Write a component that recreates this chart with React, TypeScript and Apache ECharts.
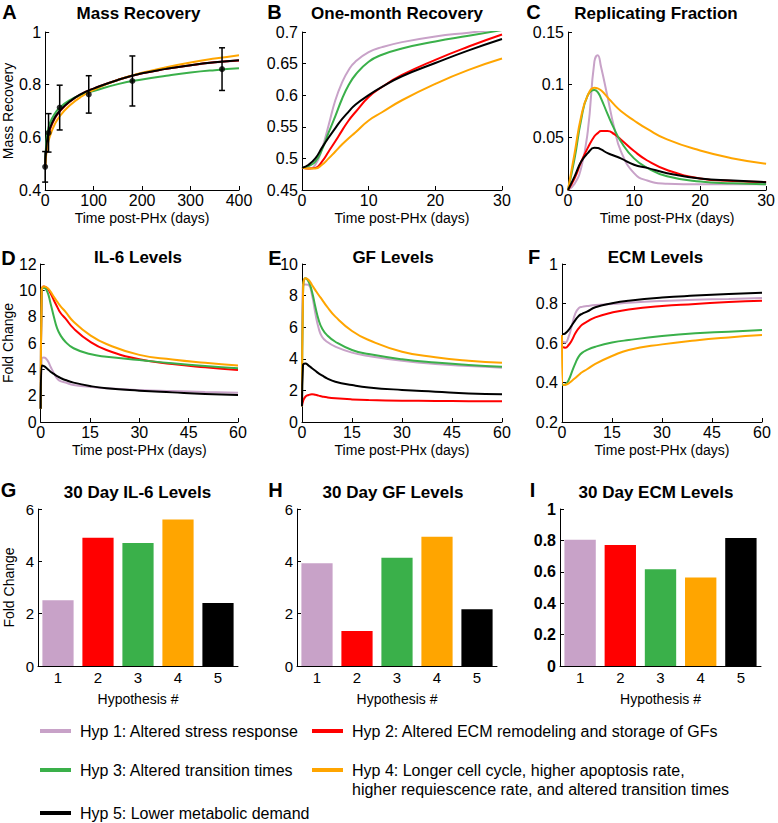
import React, { useEffect, useRef } from "react";
import * as echarts from "echarts";

const FONT = "'Liberation Sans', Arial, Helvetica, sans-serif";
const COLORS = ["#C8A2C8", "#FF0000", "#3AB04A", "#FFA500", "#000000"];
const HYP_NAMES = [
  "Hyp 1: Altered stress response",
  "Hyp 2: Altered ECM remodeling and storage of GFs",
  "Hyp 3: Altered transition times",
  "Hyp 4: Longer cell cycle, higher apoptosis rate,\nhigher requiescence rate, and altered transition times",
  "Hyp 5: Lower metabolic demand",
];

// Panel A: Mass Recovery (days 0-400)
const massT = [0, 2, 5, 10, 20, 30, 50, 75, 100, 150, 200, 250, 300, 350, 400];
const massH1 = [0.485, 0.55, 0.6, 0.635, 0.675, 0.7, 0.735, 0.765, 0.785, 0.818, 0.843, 0.86, 0.873, 0.884, 0.892];
const massH2 = [0.485, 0.54, 0.59, 0.63, 0.672, 0.698, 0.734, 0.764, 0.785, 0.818, 0.843, 0.86, 0.874, 0.885, 0.892];
const massH3 = [0.485, 0.57, 0.62, 0.655, 0.69, 0.712, 0.74, 0.762, 0.776, 0.802, 0.82, 0.834, 0.846, 0.855, 0.862];
const massH4 = [0.485, 0.53, 0.57, 0.605, 0.65, 0.68, 0.72, 0.755, 0.78, 0.818, 0.845, 0.866, 0.884, 0.899, 0.912];
const massH5 = [0.485, 0.55, 0.6, 0.635, 0.675, 0.7, 0.735, 0.765, 0.785, 0.818, 0.843, 0.86, 0.874, 0.885, 0.893];
const massObsT = [0, 7, 30, 90, 180, 365];
const massObsMean = [0.488, 0.617, 0.713, 0.763, 0.814, 0.859];
const massObsErr = [0.058, 0.073, 0.085, 0.071, 0.095, 0.081];

// Panel B: One-month Recovery (days 0-30)
const monthT = [0, 1, 2, 3, 4, 5, 6, 7, 8, 10, 12, 15, 20, 25, 30];
const monthH1 = [0.485, 0.484, 0.49, 0.515, 0.553, 0.592, 0.62, 0.64, 0.653, 0.668, 0.676, 0.684, 0.693, 0.699, 0.705];
const monthH2 = [0.485, 0.484, 0.485, 0.495, 0.511, 0.527, 0.544, 0.56, 0.573, 0.597, 0.613, 0.632, 0.656, 0.677, 0.696];
const monthH3 = [0.485, 0.488, 0.495, 0.514, 0.541, 0.567, 0.594, 0.616, 0.632, 0.653, 0.664, 0.674, 0.685, 0.694, 0.703];
const monthH4 = [0.485, 0.484, 0.484, 0.49, 0.5, 0.511, 0.522, 0.532, 0.541, 0.56, 0.573, 0.592, 0.618, 0.64, 0.658];
const monthH5 = [0.485, 0.49, 0.5, 0.517, 0.533, 0.548, 0.562, 0.574, 0.585, 0.6, 0.613, 0.63, 0.651, 0.671, 0.689];

// Panel C: Replicating Fraction (days 0-30)
const repT = [0, 1, 2, 3, 4, 4.5, 5, 6, 7, 8, 10, 12, 15, 20, 25, 30];
const repH1 = [0, 0.006, 0.021, 0.056, 0.122, 0.128, 0.117, 0.088, 0.059, 0.037, 0.016, 0.009, 0.006, 0.0055, 0.0055, 0.0055];
const repH2 = [0, 0.011, 0.027, 0.04, 0.051, 0.054, 0.056, 0.056, 0.053, 0.048, 0.037, 0.028, 0.019, 0.011, 0.0085, 0.0075];
const repH3 = [0, 0.03, 0.067, 0.09, 0.095, 0.093, 0.087, 0.072, 0.058, 0.046, 0.03, 0.021, 0.013, 0.008, 0.0064, 0.0055];
const repH4 = [0, 0.035, 0.07, 0.09, 0.097, 0.0965, 0.0946, 0.088, 0.081, 0.075, 0.066, 0.058, 0.048, 0.0375, 0.03, 0.025];
const repH5 = [0, 0.013, 0.027, 0.035, 0.04, 0.0398, 0.0385, 0.035, 0.0325, 0.03, 0.024, 0.021, 0.016, 0.011, 0.009, 0.0074];

// Panels D-F: time grid (days 0-60)
const longT = [0, 0.3, 1, 2, 3, 4, 5, 6, 7.5, 10, 15, 20, 30, 40, 50, 60];

// Panel D: IL-6 Levels
const il6H1 = [1, 4.8, 4.89, 4.7, 4.2, 3.7, 3.3, 3.1, 3.0, 2.81, 2.68, 2.56, 2.43, 2.35, 2.28, 2.23];
const il6H2 = [1, 10.0, 10.3, 10.15, 9.77, 9.25, 8.76, 8.3, 7.87, 7.11, 6.1, 5.47, 4.76, 4.4, 4.15, 3.95];
const il6H3 = [1, 10.0, 10.2, 9.9, 9.0, 8.0, 7.11, 6.6, 6.1, 5.6, 5.16, 4.96, 4.71, 4.46, 4.25, 4.08];
const il6H4 = [1, 10.0, 10.3, 10.2, 9.9, 9.5, 9.14, 8.8, 8.38, 7.62, 6.6, 5.92, 5.1, 4.75, 4.5, 4.3];
const il6H5 = [1, 4.3, 4.25, 4.05, 3.82, 3.65, 3.49, 3.35, 3.19, 2.99, 2.73, 2.56, 2.38, 2.25, 2.13, 2.05];

// Panel E: GF Levels
const gfH1 = [1, 8.7, 8.71, 8.67, 8.04, 6.88, 5.93, 5.4, 5.08, 4.77, 4.39, 4.18, 3.88, 3.67, 3.54, 3.44];
const gfH2 = [1, 1.3, 1.6, 1.71, 1.75, 1.72, 1.67, 1.62, 1.56, 1.5, 1.43, 1.39, 1.35, 1.33, 1.32, 1.31];
const gfH3 = [1, 8.0, 9.1, 8.88, 8.25, 7.3, 6.46, 5.93, 5.5, 5.08, 4.56, 4.3, 3.97, 3.76, 3.61, 3.5];
const gfH4 = [1, 8.0, 9.1, 8.99, 8.67, 8.35, 8.04, 7.75, 7.3, 6.67, 5.76, 5.19, 4.45, 4.1, 3.88, 3.75];
const gfH5 = [1, 3.6, 3.7, 3.57, 3.4, 3.24, 3.08, 2.95, 2.76, 2.55, 2.34, 2.19, 2.03, 1.92, 1.81, 1.75];

// Panel F: ECM Levels
const ecmH1 = [0.607, 0.606, 0.602, 0.632, 0.691, 0.75, 0.776, 0.783, 0.787, 0.792, 0.797, 0.804, 0.813, 0.819, 0.823, 0.828];
const ecmH2 = [0.578, 0.578, 0.576, 0.59, 0.615, 0.649, 0.674, 0.692, 0.708, 0.73, 0.754, 0.77, 0.787, 0.797, 0.808, 0.814];
const ecmH3 = [0.387, 0.388, 0.39, 0.413, 0.455, 0.497, 0.531, 0.55, 0.565, 0.581, 0.602, 0.615, 0.635, 0.649, 0.657, 0.666];
const ecmH4 = [0.64, 0.387, 0.388, 0.396, 0.409, 0.423, 0.438, 0.452, 0.467, 0.494, 0.534, 0.565, 0.593, 0.613, 0.628, 0.64];
const ecmH5 = [0.644, 0.645, 0.649, 0.666, 0.691, 0.716, 0.737, 0.748, 0.759, 0.781, 0.801, 0.814, 0.83, 0.84, 0.848, 0.855];

// Panels G-I: 30 day levels per hypothesis
const hypCategories = ["1", "2", "3", "4", "5"];
const il6Day30 = [2.51, 4.9, 4.7, 5.6, 2.41];
const gfDay30 = [3.93, 1.34, 4.14, 4.94, 2.17];
const ecmDay30 = [0.804, 0.77, 0.617, 0.564, 0.815];

const GRIDS = [
  { left: 39, top: 32, width: 200, height: 158 },
  { left: 302, top: 32, width: 200, height: 158 },
  { left: 568, top: 32, width: 200, height: 158 },
  { left: 39, top: 264, width: 199, height: 158 },
  { left: 302, top: 264, width: 200, height: 158 },
  { left: 562, top: 264, width: 200, height: 158 },
  { left: 38, top: 509, width: 200, height: 157 },
  { left: 297, top: 509, width: 200, height: 157 },
  { left: 560, top: 509, width: 201, height: 157 },
];

const axisLine = { show: true, onZero: false, lineStyle: { color: "#000", width: 1 } };
const axisTick = { show: true, inside: true, length: 4, lineStyle: { color: "#000" } };

function xValueAxis(g: number, max: number, interval: number) {
  return {
    type: "value", gridIndex: g, min: 0, max, interval,
    axisLine, axisTick,
    axisLabel: { color: "#000", fontSize: 16, fontFamily: FONT, margin: 2 },
    splitLine: { show: false },
    name: "Time post-PHx (days)", nameLocation: "middle", nameGap: 21,
    nameTextStyle: { color: "#000", fontSize: 14, fontFamily: FONT },
  };
}

function yValueAxis(g: number, min: number, max: number, interval: number, name?: string, bold?: boolean, fs = 16) {
  return {
    type: "value", gridIndex: g, min, max, interval,
    axisLine, axisTick,
    axisLabel: { color: "#000", fontSize: fs, fontFamily: FONT, margin: 4, fontWeight: bold ? "bold" : "normal" },
    splitLine: { show: false },
    name: name || "", nameLocation: "middle", nameGap: 22,
    nameTextStyle: { color: "#000", fontSize: 14, fontFamily: FONT },
  };
}

function catAxis(g: number) {
  return {
    type: "category", gridIndex: g, data: hypCategories,
    axisLine, axisTick: { show: false },
    axisLabel: { color: "#000", fontSize: 15, fontFamily: FONT, margin: 4 },
    name: "Hypothesis #", nameLocation: "middle", nameGap: 26,
    nameTextStyle: { color: "#000", fontSize: 14, fontFamily: FONT },
  };
}

function lineSeries(g: number, t: number[], rows: number[][]) {
  return rows.map((vals, h) => ({
    name: HYP_NAMES[h],
    type: "line",
    xAxisIndex: g, yAxisIndex: g,
    data: t.map((x, i) => [x, vals[i]]),
    showSymbol: false, symbol: "none",
    smooth: 0.5,
    lineStyle: { color: COLORS[h], width: 2 },
    itemStyle: { color: COLORS[h] },
    clip: true, silent: true, z: 2 + h,
  }));
}

function barSeries(g: number, vals: number[]) {
  return {
    type: "bar", xAxisIndex: g, yAxisIndex: g,
    barCategoryGap: "22%",
    data: vals.map((v, i) => ({ value: v, itemStyle: { color: COLORS[i] } })),
    silent: true,
  };
}

function txt(text: string, x: number, y: number, size: number, bold: boolean, align = "center", vAlign = "middle", lineHeight?: number) {
  return {
    type: "text", x, y, silent: true,
    style: {
      text, fill: "#000",
      font: `${bold ? "bold " : ""}${size}px ${FONT}`,
      textAlign: align, textVerticalAlign: vAlign,
      align, verticalAlign: vAlign,
      lineHeight: lineHeight || size * 1.2,
    },
  };
}

export default function App() {
  const ref = useRef<HTMLDivElement>(null);
  useEffect(() => {
    if (!ref.current) return;
    const chart = echarts.init(ref.current, null, { renderer: "svg" });

    const letters = [
      ["A", 9.5, 12], ["B", 274.5, 12], ["C", 533.5, 12],
      ["D", 8.5, 257.5], ["E", 275, 257.5], ["F", 534, 256.5],
      ["G", 8.5, 490], ["H", 275.5, 490], ["I", 532.5, 490],
    ] as [string, number, number][];
    const titles = [
      ["Mass Recovery", 138.5, 13], ["One-month Recovery", 397, 13], ["Replicating Fraction", 656, 13],
      ["IL-6 Levels", 138, 257], ["GF Levels", 393, 257], ["ECM Levels", 655.5, 257],
      ["30 Day IL-6 Levels", 137.5, 492], ["30 Day GF Levels", 393, 492], ["30 Day ECM Levels", 656, 492],
    ] as [string, number, number][];

    const legendPos = [
      [40, 731], [312, 731], [40, 770], [312, 770], [40, 813],
    ];
    const legendEls: any[] = [];
    legendPos.forEach(([x, y], h) => {
      legendEls.push({
        type: "rect", silent: true,
        shape: { x, y: y - 2, width: 31, height: 4 },
        style: { fill: COLORS[h] },
      });
      if (h === 3) {
        legendEls.push(txt(HYP_NAMES[h], x + 40, y - 9.5, 16, false, "left", "top", 19));
      } else {
        legendEls.push(txt(HYP_NAMES[h], x + 40, y, 16, false, "left", "middle"));
      }
    });

    const option: any = {
      animation: false,
      textStyle: { fontFamily: FONT },
      grid: GRIDS.map((g) => ({ ...g, containLabel: false })),
      xAxis: [
        xValueAxis(0, 400, 100),
        xValueAxis(1, 30, 10),
        xValueAxis(2, 30, 10),
        xValueAxis(3, 60, 15),
        xValueAxis(4, 60, 15),
        xValueAxis(5, 60, 15),
        catAxis(6), catAxis(7), catAxis(8),
      ],
      yAxis: [
        yValueAxis(0, 0.4, 1, 0.2, "Mass Recovery"),
        yValueAxis(1, 0.45, 0.7, 0.05),
        yValueAxis(2, 0, 0.15, 0.05),
        yValueAxis(3, 0, 12, 2, "Fold Change"),
        yValueAxis(4, 0, 10, 2),
        yValueAxis(5, 0.2, 1, 0.2),
        yValueAxis(6, 0, 6, 2, "Fold Change", false, 15),
        yValueAxis(7, 0, 6, 2, "", false, 15),
        yValueAxis(8, 0, 1, 0.2, "", true, 16),
      ],
      series: [
        ...lineSeries(0, massT, [massH1, massH2, massH3, massH4, massH5]),
        {
          type: "custom", xAxisIndex: 0, yAxisIndex: 0, z: 10, silent: true,
          data: massObsT.map((t, i) => [t, massObsMean[i] - massObsErr[i], massObsMean[i] + massObsErr[i]]),
          renderItem: (params: any, api: any) => {
            const x = api.value(0);
            const lo = api.coord([x, api.value(1)]);
            const hi = api.coord([x, api.value(2)]);
            const cw = 3;
            const st = { stroke: "#000", lineWidth: 1.5 };
            return {
              type: "group",
              children: [
                { type: "line", shape: { x1: lo[0], y1: lo[1], x2: hi[0], y2: hi[1] }, style: st },
                { type: "line", shape: { x1: lo[0] - cw, y1: lo[1], x2: lo[0] + cw, y2: lo[1] }, style: st },
                { type: "line", shape: { x1: hi[0] - cw, y1: hi[1], x2: hi[0] + cw, y2: hi[1] }, style: st },
              ],
            };
          },
        },
        {
          type: "scatter", xAxisIndex: 0, yAxisIndex: 0, z: 11, silent: true,
          symbolSize: 6, itemStyle: { color: "#000" },
          data: massObsT.map((t, i) => [t, massObsMean[i]]),
        },
        ...lineSeries(1, monthT, [monthH1, monthH2, monthH3, monthH4, monthH5]),
        ...lineSeries(2, repT, [repH1, repH2, repH3, repH4, repH5]),
        ...lineSeries(3, longT, [il6H1, il6H2, il6H3, il6H4, il6H5]),
        ...lineSeries(4, longT, [gfH1, gfH2, gfH3, gfH4, gfH5]),
        ...lineSeries(5, longT, [ecmH1, ecmH2, ecmH3, ecmH4, ecmH5]),
        barSeries(6, il6Day30),
        barSeries(7, gfDay30),
        barSeries(8, ecmDay30),
      ],
      graphic: [
        ...letters.map(([t, x, y]) => txt(t, x, y, 20, true)),
        ...titles.map(([t, x, y]) => txt(t, x, y, 17, true)),
        ...legendEls,
      ],
    };
    chart.setOption(option);
    return () => chart.dispose();
  }, []);

  return (
    <div
      ref={ref}
      style={{ position: "absolute", left: 0, top: 0, width: 778, height: 823, background: "#fff" }}
    />
  );
}
